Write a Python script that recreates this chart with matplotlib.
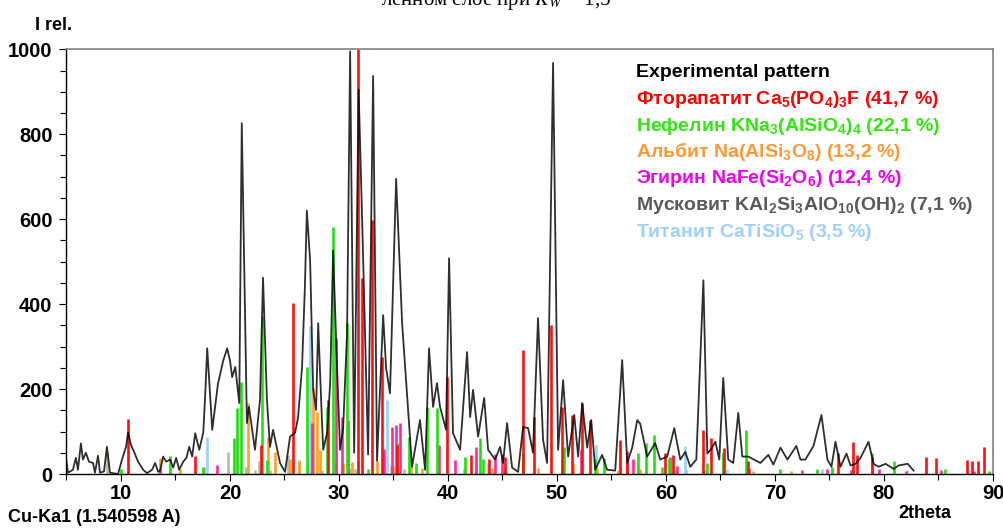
import matplotlib
matplotlib.use('Agg')
import matplotlib.pyplot as plt

# experimental pattern (2theta, I rel.)
exp_2theta = [5.0, 5.13, 5.59, 5.86, 6.05, 6.32, 6.51, 6.78, 7.06, 7.43, 7.61, 7.89, 8.07, 8.44,
              8.71, 8.99, 9.73, 10.09, 10.46, 10.65, 10.92, 11.2, 11.57, 12.03, 12.39, 12.85, 13.13,
              13.41, 13.59, 13.87, 14.14, 14.51, 14.79, 15.06, 15.34, 15.71, 16.0, 16.26, 16.53,
              16.81, 17.18, 17.55, 17.73, 17.91, 18.37, 18.9, 19.38, 19.74, 20.0, 20.2, 20.48,
              20.85, 21.08, 21.55, 21.74, 22.29, 22.75, 23.03, 23.39, 23.67, 23.95, 24.59, 25.05,
              25.51, 25.97, 26.25, 26.61, 26.87, 27.05, 27.35, 27.63, 27.9, 28.09, 28.36, 28.55,
              28.91, 29.19, 29.46, 29.82, 30.1, 30.38, 30.74, 31.02, 31.39, 31.8, 32.11, 32.67,
              33.13, 33.49, 34.05, 34.32, 34.68, 35.24, 35.79, 36.7, 37.43, 37.9, 38.26, 38.63,
              38.99, 39.27, 39.82, 40.1, 40.46, 41.11, 41.75, 42.03, 42.3, 42.76, 43.32, 43.68,
              44.32, 44.78, 45.05, 45.42, 45.88, 46.43, 46.89, 47.35, 47.8, 48.26, 48.72, 49.09,
              49.64, 50.1, 50.56, 51.02, 51.58, 51.94, 52.31, 52.77, 53.14, 53.51, 54.14, 54.6,
              55.34, 55.98, 56.44, 56.9, 57.36, 57.64, 58.27, 59.01, 59.47, 60.11, 60.76, 61.31,
              61.77, 62.23, 62.78, 63.43, 63.79, 64.16, 64.53, 64.89, 65.25, 65.71, 66.17, 66.63,
              67.0, 67.55, 68.66, 69.39, 69.85, 70.5, 71.14, 71.96, 72.33, 72.79, 73.53, 74.26,
              74.81, 75.18, 75.55, 76.01, 76.56, 76.93, 77.39, 77.85, 78.58, 79.04, 79.5, 80.15,
              80.88, 81.34, 82.17, 82.72]
exp_int = [29, 3, 10, 38, 10, 72, 34, 50, 29, 26, 3, 43, 3, 6,
           64, 3, 0, 34, 64, 98, 68, 52, 29, 10, 2, 10, 26,
           5, 8, 41, 29, 34, 15, 38, 10, 29, 38, 64, 41,
           96, 57, 98, 190, 296, 104, 213, 267, 296, 267, 228, 252,
           167, 826, 120, 158, 57, 174, 462, 174, 64, 104, 26, 5,
           88, 97, 134, 252, 440, 620, 503, 198, 151, 355, 174, 57,
           97, 214, 526, 252, 57, 108, 332, 995, 50, 905, 612, 46,
           937, 31, 374, 250, 190, 695, 355, 17, 127, 10, 296, 158,
           214, 158, 104, 508, 96, 57, 287, 134, 198, 88, 179, 57,
           34, 64, 26, 120, 15, 5, 111, 108, 50, 367, 81, 26,
           968, 57, 221, 41, 139, 41, 167, 62, 127, 10, 45, 10,
           8, 268, 26, 62, 127, 118, 41, 73, 34, 41, 108, 34,
           52, 17, 34, 456, 48, 59, 76, 34, 226, 34, 26, 144,
           41, 41, 26, 45, 22, 62, 34, 66, 34, 34, 66, 139,
           34, 17, 76, 17, 48, 20, 24, 38, 76, 24, 17, 24,
           12, 20, 24, 8]

# Фторапатит
fap_pos = [10.65, 16.8, 22.8, 25.8, 28.95, 31.77, 32.1, 33.0, 33.95, 35.35, 39.9, 42.1, 43.8,
           45.2, 46.9, 47.9, 49.45, 50.5, 51.35, 52.3, 53.05, 55.8, 56.4, 59.9, 60.6, 63.4,
           64.1, 65.3, 67.5, 75.8, 77.15, 77.5, 78.9, 83.85, 84.8, 87.6, 88.1, 88.6, 89.2]
fap_int = [130, 42, 69, 402, 174, 1000, 461, 597, 275, 69, 228, 45, 35,
           40, 292, 134, 351, 158, 139, 167, 127, 81, 35, 50, 45, 104,
           85, 62, 30, 50, 76, 45, 40, 41, 38, 34, 30, 30, 64]
# Нефелин
nep_pos = [10.0, 14.5, 17.5, 20.4, 20.6, 21.0, 22.95, 23.4, 27.05, 28.9, 29.45, 30.75, 32.65,
           35.45, 36.45, 37.05, 38.05, 38.95, 41.6, 42.9, 43.25, 46.9, 50.6, 53.5, 54.3, 57.4,
           58.2, 58.9, 59.6, 60.3, 63.8, 65.2, 67.35, 70.45, 73.85, 75.25, 78.9, 80.9, 85.6, 89.6]
nep_int = [12, 43, 17, 85, 156, 216, 371, 33, 252, 158, 581, 355, 12,
           73, 88, 26, 158, 156, 41, 85, 36, 50, 64, 36, 38, 50,
           73, 92, 16, 36, 26, 50, 104, 12, 12, 16, 50, 31, 12, 8]
# Альбит
alb_pos = [13.6, 15.4, 21.65, 23.45, 24.15, 25.5, 26.3, 27.6, 27.95, 28.3, 29.7, 30.4, 31.15,
           31.75, 33.5, 35.0, 36.6, 37.6, 41.5, 42.6, 44.0, 45.1, 48.3, 51.5, 53.7, 55.6, 57.6,
           60.8, 63.5, 68.0, 71.5]
alb_int = [38, 12, 167, 88, 52, 36, 30, 202, 146, 57, 30, 26, 29,
           31, 31, 20, 29, 15, 12, 22, 15, 12, 15, 25, 12, 10, 12,
           10, 10, 8, 8]
# Эгирин
aeg_pos = [13.6, 18.8, 27.55, 29.75, 30.25, 30.85, 34.1, 34.85, 35.25, 35.6, 39.2, 40.6, 42.6,
           44.3, 45.0, 52.2, 56.4, 57.0, 60.4, 61.0, 65.2, 67.6, 72.5, 74.8, 77.0, 79.5, 82.0,
           85.2, 88.3]
aeg_int = [12, 22, 120, 320, 134, 127, 60, 111, 116, 120, 69, 34, 64,
           46, 46, 56, 53, 35, 41, 20, 50, 15, 10, 12, 10, 12, 8,
           10, 8]
# Мусковит
mus_pos = [8.7, 17.6, 19.8, 21.5, 22.3, 22.7, 23.7, 25.3, 26.3, 27.2, 28.4, 31.05, 31.5, 34.8,
           36.0, 45.3, 61.8]
mus_int = [52, 16, 52, 16, 10, 31, 10, 45, 34, 25, 10, 15, 12, 20,
           12, 8, 10]
# Титанит
tit_pos = [17.9, 27.3, 34.4, 43.7, 50.5, 53.6, 55.8, 61.7, 65.6, 74.3, 82.1, 87.8]
tit_int = [88, 348, 174, 26, 12, 69, 76, 66, 12, 12, 10, 10]

legend_lines = [
    ("Experimental pattern", "black"),
    ("Фторапатит Ca$_5$(PO$_4$)$_3$F (41,7 %)", "#ff0000"),
    ("Нефелин KNa$_3$(AlSiO$_4$)$_4$ (22,1 %)", "#33e611"),
    ("Альбит Na(AlSi$_3$O$_8$) (13,2 %)", "#ff9933"),
    ("Эгирин NaFe(Si$_2$O$_6$) (12,4 %)", "#f000f0"),
    ("Мусковит KAl$_2$Si$_3$AlO$_{10}$(OH)$_2$ (7,1 %)", "#5a5a5a"),
    ("Титанит CaTiSiO$_5$ (3,5 %)", "#9dcfff"),
]

plt.rcParams['font.family'] = ['Liberation Sans', 'DejaVu Sans']
plt.rcParams['mathtext.fontset'] = 'custom'
plt.rcParams['mathtext.rm'] = 'Liberation Sans:bold'
plt.rcParams['mathtext.it'] = 'Liberation Sans:bold'
plt.rcParams['mathtext.bf'] = 'Liberation Sans:bold'

W, H = 1004, 528
fig = plt.figure(figsize=(W / 100, H / 100), dpi=100)
ax = fig.add_axes([66.5 / W, 54 / H, 926.5 / W, 424.7 / H])

lw = 1.9
ax.vlines(mus_pos, 0, mus_int, colors='#bdb8a6', lw=lw, zorder=2)
ax.vlines(tit_pos, 0, tit_int, colors='#9dcfff', lw=lw, zorder=2)
ax.vlines(alb_pos, 0, alb_int, colors='#ffa020', lw=lw, zorder=2)
ax.vlines(aeg_pos, 0, aeg_int, colors='#ff2a9a', lw=lw, zorder=2)
ax.vlines(nep_pos, 0, nep_int, colors='#22e010', lw=lw, zorder=2)
ax.vlines(fap_pos, 0, fap_int, colors='#ff1010', lw=lw, zorder=2)
ax.plot(exp_2theta, exp_int, color='#0a0a0a', lw=1.3, alpha=0.85, zorder=3)

ax.set_xlim(5, 90)
ax.set_ylim(0, 1000)
ax.set_xticks(range(10, 91, 10))
ax.set_xticks(range(5, 91, 5), minor=True)
ax.set_yticks(range(0, 1001, 200))
ax.set_yticks(range(0, 1001, 50), minor=True)
ax.tick_params(which='both', direction='out', width=0.8, labelsize=14.5)
ax.tick_params(which='major', length=5)
ax.tick_params(which='minor', length=4)
ax.tick_params(axis='x', pad=2)
ax.tick_params(axis='y', pad=5)
for lbl in ax.get_xticklabels() + ax.get_yticklabels():
    lbl.set_fontweight('bold')

for side in ['top', 'right']:
    ax.spines[side].set_color('#808080')
    ax.spines[side].set_linewidth(1.2)
for side in ['left', 'bottom']:
    ax.spines[side].set_color('black')
    ax.spines[side].set_linewidth(1.0)

# legend as coloured text lines
base_y = [77, 104, 131, 157, 183, 210, 237]
for (txt, col), by in zip(legend_lines, base_y):
    fig.text(636 / W, 1 - by / H, txt, color=col, fontsize=14, fontweight='bold',
             ha='left', va='baseline')

fig.text(35 / W, 1 - 25 / H, "I rel.", fontsize=13, fontweight='bold', ha='left', va='center')
fig.text(8 / W, 1 - 517 / H, "Cu-Ka1 (1.540598 A)", fontsize=13, fontweight='bold',
         ha='left', va='center')
fig.text(925 / W, 1 - 514 / H, "2theta", fontsize=13, fontweight='bold', ha='center', va='center')

# title, mostly cut off by the top edge
fig.text(381 / W, 1 - 5 / H, "ленном слое при $K_W$ = 1,5", family='Liberation Serif',
         math_fontfamily='stix', fontsize=15, ha='left', va='baseline')

fig.savefig('out.png', dpi=100)
